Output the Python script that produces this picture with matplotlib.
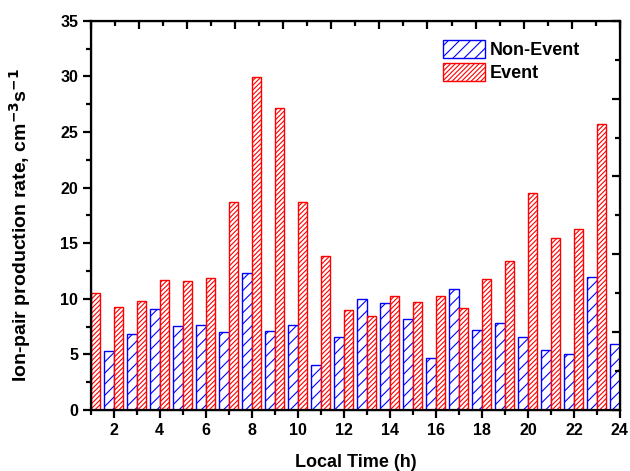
import numpy as np
import matplotlib
matplotlib.use('Agg')
import matplotlib.pyplot as plt
from matplotlib.ticker import MultipleLocator

plt.rcParams['font.family'] = ['Liberation Sans', 'DejaVu Sans']
plt.rcParams['font.weight'] = 'bold'
plt.rcParams['mathtext.default'] = 'bf'
plt.rcParams['hatch.linewidth'] = 0.8

# hourly ion-pair production rates (hour 1 of Non-Event and hour 24 of Event fall outside the axis)
nonevent_hours = list(range(2, 25))
nonevent = [5.27, 6.8, 9.05, 7.52, 7.61, 7.04, 12.29, 7.1, 7.64, 4.02, 6.59, 9.95,
            9.65, 8.15, 4.68, 10.85, 7.16, 7.85, 6.56, 5.4, 5.01, 11.93, 5.93]
event_hours = list(range(1, 24))
event = [10.5, 9.23, 9.83, 11.66, 11.63, 11.9, 18.68, 29.92, 27.13, 18.68, 13.88,
         9.02, 8.42, 10.22, 9.68, 10.22, 9.14, 11.81, 13.43, 19.48, 15.44, 16.28, 25.69]

fig = plt.figure(figsize=(6.3, 4.71), dpi=100)
ax = fig.add_axes([0.144, 0.1295, 0.84, 0.8265])

w = 0.41
ax.bar(nonevent_hours, nonevent, width=-w, align='edge', facecolor='white',
       edgecolor='blue', hatch='///', linewidth=1.0, label='Non-Event')
ax.bar(event_hours, event, width=w, align='edge', facecolor='white',
       edgecolor='red', hatch='///////', linewidth=1.0, label='Event')

ax.set_xlim(1, 24)
ax.set_ylim(0, 35)
ax.xaxis.set_major_locator(MultipleLocator(2))
ax.xaxis.set_minor_locator(MultipleLocator(1))
ax.yaxis.set_major_locator(MultipleLocator(5))
ax.yaxis.set_minor_locator(MultipleLocator(2.5))
ax.tick_params(which='both', direction='out', width=1.6, labelsize=11.5, pad=3)
ax.tick_params(which='major', length=6)
ax.tick_params(which='minor', length=3.5)

for s in ax.spines.values():
    s.set_linewidth(1.6)

# mirrored axes on top and right, as in Origin
top = ax.twiny()
top.set_xlim(0, 22)
top.xaxis.set_major_locator(MultipleLocator(2))
top.xaxis.set_minor_locator(MultipleLocator(1))
top.tick_params(which='both', direction='in', width=1.6, labeltop=False)
top.tick_params(which='major', length=6)
top.tick_params(which='minor', length=3.5)

right = ax.twinx()
right.set_ylim(0, 35)
right.yaxis.set_major_locator(MultipleLocator(7))
right.yaxis.set_minor_locator(MultipleLocator(3.5))
right.tick_params(which='both', direction='in', width=1.6, labelright=False)
right.tick_params(which='major', length=6)
right.tick_params(which='minor', length=3.5)

ax.set_xlabel('Local Time (h)', fontsize=13, fontweight='bold', labelpad=12)
ax.set_ylabel('Ion-pair production rate, cm$^{-3}$s$^{-1}$',
              fontsize=14, fontweight='bold')
ax.yaxis.set_label_coords(-0.11, 0.475)

ax.legend(loc='upper left', bbox_to_anchor=(0.652, 0.97), frameon=False,
          fontsize=13, handlelength=2.3, handleheight=1.2, labelspacing=0.2,
          handletextpad=0.3, borderaxespad=0)

fig.savefig('out.png', dpi=100)
